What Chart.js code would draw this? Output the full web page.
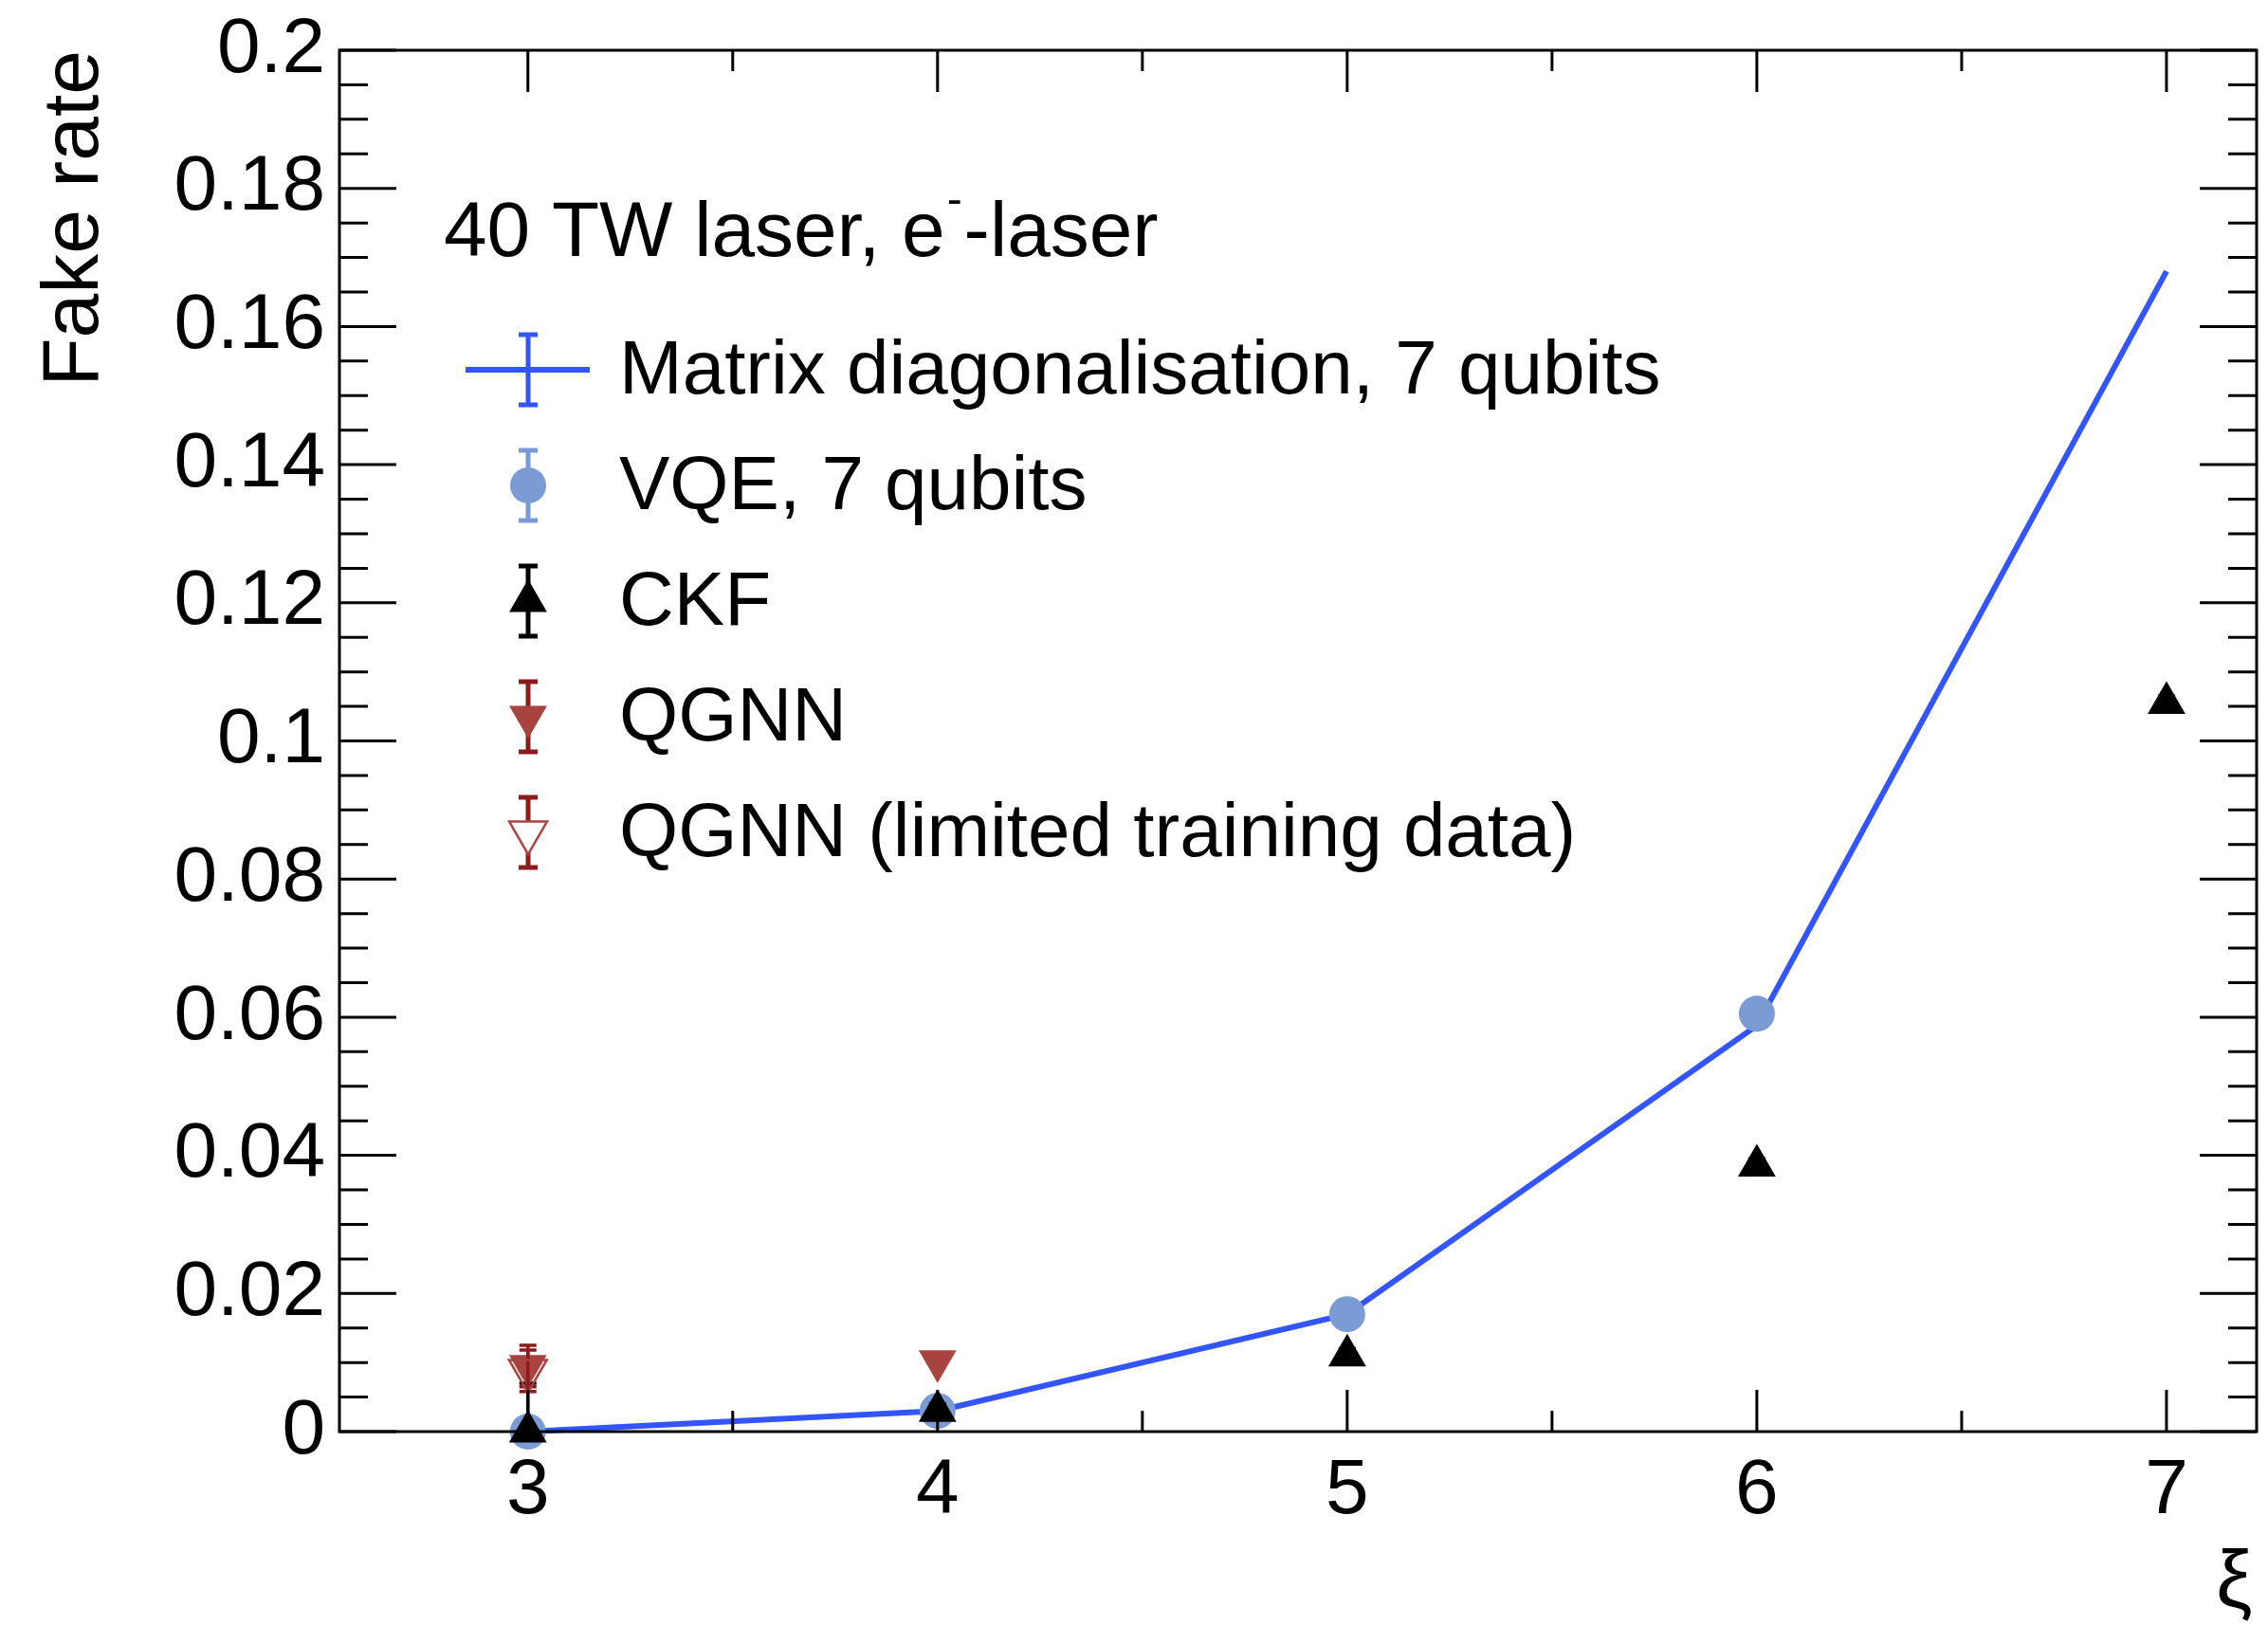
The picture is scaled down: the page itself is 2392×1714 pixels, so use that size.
<!DOCTYPE html>
<html>
<head>
<meta charset="utf-8">
<title>Fake rate vs xi</title>
<style>
  html, body { margin: 0; padding: 0; background: #fff; }
  #chart { display: block; }
</style>
</head>
<body>
<canvas id="chart" width="2392" height="1714"></canvas>
<script src="https://cdn.jsdelivr.net/npm/chart.js"></script>
<script>
// values
const xi = [3, 4, 5, 6, 7];
const matrixRate = [0, 0.003, 0.017, 0.0588, 0.168];
const vqeRate = [0, 0.003, 0.017, 0.0605];
const vqeErr = [0.0005, 0.0005, 0.0008, 0.001];
const ckfRate = [0, 0.003, 0.011, 0.0385, 0.1055];
const ckfErr = [0.007, 0.001, 0.001, 0.001, 0.001];
const qgnnRate = [0.0095, 0.0102];
const qgnnErr = [0.003, 0.0005];
const qgnnLimRate = [0.0088];
const qgnnLimErr = [0.003];

// axis ticks
const xTicks = [3, 4, 5, 6, 7];
const xMinor = [3.5, 4.5, 5.5, 6.5];
const yTicks = [0, 0.02, 0.04, 0.06, 0.08, 0.1, 0.12, 0.14, 0.16, 0.18, 0.2];

const FONT = '"Liberation Sans", Arial, sans-serif';
const BLUE = '#3355ff';
const VQE = '#7b9bd4';
const RED = '#a9433f';
const DARKRED = '#8b1c1c';

function points(ys) {
  return ys.map((y, i) => ({ x: xi[i], y: y }));
}

// error bars under each dataset
const errorBars = {
  id: 'errorBars',
  beforeDatasetDraw(chart, args) {
    const ds = chart.data.datasets[args.index];
    if (!ds.errors) return;
    const ctx = chart.ctx, xs = chart.scales.x, ys = chart.scales.y;
    ctx.save();
    ctx.strokeStyle = ds.errColor;
    ctx.lineWidth = 3.5;
    ds.data.forEach((p, i) => {
      const e = ds.errors[i];
      if (!e) return;
      const px = xs.getPixelForValue(p.x);
      const top = ys.getPixelForValue(p.y + e);
      const bot = ys.getPixelForValue(Math.max(p.y - e, 0));
      ctx.beginPath();
      ctx.moveTo(px, top); ctx.lineTo(px, bot);
      ctx.moveTo(px - 9, top); ctx.lineTo(px + 9, top);
      if (p.y - e > 0) { ctx.moveTo(px - 9, bot); ctx.lineTo(px + 9, bot); }
      ctx.stroke();
    });
    ctx.restore();
  }
};

// ROOT style frame, ticks, titles and legend
const frame = {
  id: 'frame',
  afterDraw(chart) {
    const ctx = chart.ctx, a = chart.chartArea;
    const xs = chart.scales.x, ys = chart.scales.y;
    ctx.save();
    ctx.strokeStyle = '#000';
    ctx.lineWidth = 3;
    ctx.strokeRect(a.left, a.top, a.right - a.left, a.bottom - a.top);

    ctx.beginPath();
    xTicks.forEach(v => {
      const px = xs.getPixelForValue(v);
      ctx.moveTo(px, a.bottom); ctx.lineTo(px, a.bottom - 44);
      ctx.moveTo(px, a.top); ctx.lineTo(px, a.top + 44);
    });
    xMinor.forEach(v => {
      const px = xs.getPixelForValue(v);
      ctx.moveTo(px, a.bottom); ctx.lineTo(px, a.bottom - 22);
      ctx.moveTo(px, a.top); ctx.lineTo(px, a.top + 22);
    });
    for (let k = 0; k <= 40; k++) {
      const py = ys.getPixelForValue(k * 0.005);
      const len = k % 4 === 0 ? 60 : 30;
      ctx.moveTo(a.left, py); ctx.lineTo(a.left + len, py);
      ctx.moveTo(a.right, py); ctx.lineTo(a.right - len, py);
    }
    ctx.stroke();

    ctx.fillStyle = '#000';
    // y title
    ctx.save();
    ctx.font = '84px ' + FONT;
    ctx.translate(103, a.top);
    ctx.rotate(-Math.PI / 2);
    ctx.textAlign = 'right';
    ctx.textBaseline = 'alphabetic';
    ctx.fillText('Fake rate', 0, 0);
    ctx.restore();
    // x title
    ctx.font = '86px ' + FONT;
    ctx.textAlign = 'left';
    ctx.textBaseline = 'alphabetic';
    ctx.fillText('\u03BE', 2337, 1695);

    // legend header
    ctx.font = '82px ' + FONT;
    let hx = 468;
    const hy = 270;
    const part1 = '40 TW laser, e';
    ctx.fillText(part1, hx, hy);
    hx += ctx.measureText(part1).width;
    ctx.font = '48px ' + FONT;
    ctx.fillText('-', hx + 2, hy - 44);
    hx += ctx.measureText('-').width + 4;
    ctx.font = '82px ' + FONT;
    ctx.fillText('-laser', hx, hy);

    // legend entries
    const sx = 557, tx = 653;
    const rows = [390, 512, 634, 756, 878];
    const labels = ['Matrix diagonalisation, 7 qubits', 'VQE, 7 qubits', 'CKF', 'QGNN', 'QGNN (limited training data)'];
    ctx.font = '80px ' + FONT;
    ctx.textBaseline = 'middle';
    labels.forEach((t, i) => ctx.fillText(t, tx, rows[i] + 3));

    function bar(y, color) {
      ctx.strokeStyle = color;
      ctx.lineWidth = 5;
      ctx.beginPath();
      ctx.moveTo(sx, y - 37); ctx.lineTo(sx, y + 37);
      ctx.moveTo(sx - 10, y - 37); ctx.lineTo(sx + 10, y - 37);
      ctx.moveTo(sx - 10, y + 37); ctx.lineTo(sx + 10, y + 37);
      ctx.stroke();
    }
    // matrix
    bar(rows[0], BLUE);
    ctx.lineWidth = 6;
    ctx.beginPath();
    ctx.moveTo(491, rows[0]); ctx.lineTo(622, rows[0]);
    ctx.stroke();
    // markers
    const markers = [
      { row: 1, err: VQE, fill: VQE, stroke: VQE, style: 'circle', rot: 0, r: 19, bw: 0 },
      { row: 2, err: '#000', fill: '#000', stroke: '#000', style: 'triangle', rot: 0, r: 23, bw: 0 },
      { row: 3, err: DARKRED, fill: RED, stroke: RED, style: 'triangle', rot: 180, r: 23, bw: 0 },
      { row: 4, err: DARKRED, fill: '#fff', stroke: RED, style: 'triangle', rot: 180, r: 23, bw: 2.5 }
    ];
    markers.forEach(m => {
      bar(rows[m.row], m.err);
      ctx.fillStyle = m.fill;
      ctx.strokeStyle = m.stroke;
      ctx.lineWidth = m.bw;
      Chart.helpers.drawPoint(ctx, { pointStyle: m.style, rotation: m.rot, radius: m.r, borderWidth: m.bw }, sx, rows[m.row]);
    });
    ctx.restore();
  }
};

new Chart(document.getElementById('chart'), {
  type: 'scatter',
  data: {
    datasets: [
      {
        label: 'Matrix diagonalisation, 7 qubits',
        data: points(matrixRate),
        showLine: true,
        borderColor: BLUE,
        borderWidth: 6,
        pointRadius: 0,
        order: 5,
        clip: false
      },
      {
        label: 'VQE, 7 qubits',
        data: points(vqeRate),
        errors: vqeErr,
        errColor: VQE,
        pointStyle: 'circle',
        pointRadius: 19,
        backgroundColor: VQE,
        borderWidth: 0,
        order: 4,
        clip: false
      },
      {
        label: 'CKF',
        data: points(ckfRate),
        errors: ckfErr,
        errColor: '#000',
        pointStyle: 'triangle',
        pointRadius: 23,
        backgroundColor: '#000',
        borderWidth: 0,
        order: 3,
        clip: false
      },
      {
        label: 'QGNN',
        data: points(qgnnRate),
        errors: qgnnErr,
        errColor: DARKRED,
        pointStyle: 'triangle',
        rotation: 180,
        pointRadius: 23,
        backgroundColor: RED,
        borderWidth: 0,
        order: 2,
        clip: false
      },
      {
        label: 'QGNN (limited training data)',
        data: points(qgnnLimRate),
        errors: qgnnLimErr,
        errColor: DARKRED,
        pointStyle: 'triangle',
        rotation: 180,
        pointRadius: 23,
        backgroundColor: 'rgba(255,255,255,0)',
        borderColor: RED,
        borderWidth: 2.5,
        order: 1,
        clip: false
      }
    ]
  },
  options: {
    responsive: false,
    animation: false,
    devicePixelRatio: 1,
    layout: { autoPadding: false, padding: { top: 53, right: 12, left: 0, bottom: 0 } },
    plugins: { legend: { display: false }, tooltip: { enabled: false } },
    scales: {
      x: {
        type: 'linear',
        min: 2.54,
        max: 7.22,
        afterBuildTicks: s => { s.ticks = xTicks.map(v => ({ value: v })); },
        afterFit: s => { s.height = 204; s.paddingLeft = 0; s.paddingRight = 0; },
        grid: { display: false, drawTicks: false },
        border: { display: false },
        ticks: {
          color: '#000',
          padding: 14,
          maxRotation: 0,
          font: { family: FONT, size: 82 },
          callback: v => String(v)
        }
      },
      y: {
        type: 'linear',
        min: 0,
        max: 0.2,
        afterBuildTicks: s => { s.ticks = yTicks.map(v => ({ value: v })); },
        afterFit: s => { s.width = 358; s.paddingTop = 0; s.paddingBottom = 0; },
        grid: { display: false, drawTicks: false },
        border: { display: false },
        ticks: {
          color: '#000',
          padding: 15,
          font: { family: FONT, size: 82 },
          callback: v => String(Number(v.toFixed(3)))
        }
      }
    }
  },
  plugins: [errorBars, frame]
});
</script>
</body>
</html>
